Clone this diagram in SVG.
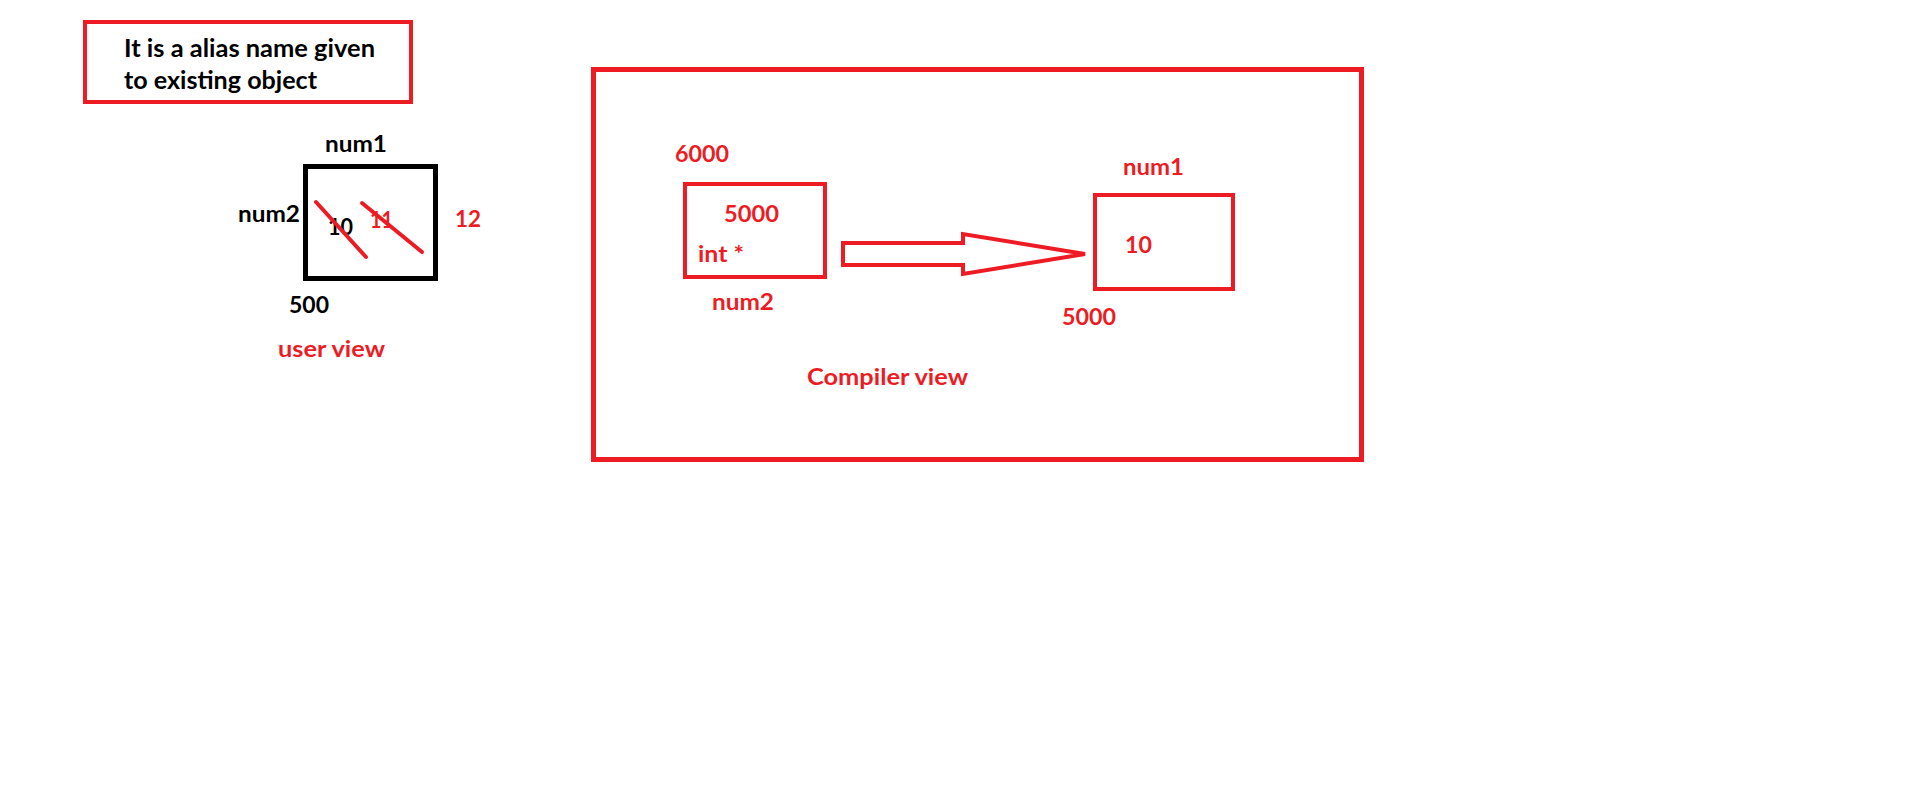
<svg xmlns="http://www.w3.org/2000/svg" width="1914" height="809" viewBox="0 0 1914 809">
<style>
text{font-family:Lato,"Open Sans","Liberation Sans",sans-serif;font-weight:bold;font-size:23px}
.k{fill:#000}
.r{fill:#ED1C24}
.bx{fill:none;stroke:#ED1C24;stroke-width:4}
.big{fill:none;stroke:#ED1C24;stroke-width:5}
.strike{stroke:#ED1C24;stroke-width:4;stroke-linecap:round}
</style>
<rect width="1914" height="809" fill="#fff"/>
<g id="note">
<rect class="bx" x="85" y="22" width="326" height="80"/>
<text class="k" x="124" y="57" style="font-size:24px" textLength="251" lengthAdjust="spacingAndGlyphs">It is a alias name given</text>
<text class="k" x="124" y="89" style="font-size:24px" textLength="193" lengthAdjust="spacingAndGlyphs">to existing object</text>
</g>
<g id="user-view">
<rect x="305.5" y="166.5" width="130" height="112" fill="none" stroke="#000" stroke-width="5"/>
<text class="k" x="325" y="152" textLength="62" lengthAdjust="spacingAndGlyphs">num1</text>
<text class="k" x="238" y="222" textLength="62" lengthAdjust="spacingAndGlyphs">num2</text>
<text class="k" x="328" y="235" textLength="25" lengthAdjust="spacingAndGlyphs">10</text>
<text class="r" x="370" y="228" textLength="23" lengthAdjust="spacingAndGlyphs">11</text>
<line class="strike" x1="316" y1="202" x2="366" y2="257"/>
<line class="strike" x1="362" y1="203" x2="422" y2="252"/>
<text class="r" x="455" y="227" textLength="26" lengthAdjust="spacingAndGlyphs">12</text>
<text class="k" x="289" y="313" textLength="40" lengthAdjust="spacingAndGlyphs">500</text>
<text class="r" x="278" y="357" textLength="107" lengthAdjust="spacingAndGlyphs">user view</text>
</g>
<g id="compiler-view">
<rect class="big" x="593.5" y="69.5" width="768" height="390"/>
<text class="r" x="807" y="385" textLength="161" lengthAdjust="spacingAndGlyphs">Compiler view</text>
</g>
<g id="num2-box">
<text class="r" x="675" y="162" textLength="54" lengthAdjust="spacingAndGlyphs">6000</text>
<rect class="bx" x="685" y="184" width="140" height="93"/>
<text class="r" x="724" y="222" textLength="55" lengthAdjust="spacingAndGlyphs">5000</text>
<text class="r" x="698" y="262" textLength="46" lengthAdjust="spacingAndGlyphs">int *</text>
<text class="r" x="712" y="310" textLength="62" lengthAdjust="spacingAndGlyphs">num2</text>
</g>
<g id="num1-box">
<text class="r" x="1123" y="175" textLength="61" lengthAdjust="spacingAndGlyphs">num1</text>
<rect class="bx" x="1095" y="195" width="138" height="94"/>
<text class="r" x="1125" y="253" textLength="27" lengthAdjust="spacingAndGlyphs">10</text>
<text class="r" x="1062" y="325" textLength="54" lengthAdjust="spacingAndGlyphs">5000</text>
</g>
<g id="connectors">
<polygon points="843,243 963,243 963,234 1085,254 963,274 963,265 843,265" fill="none" stroke="#ED1C24" stroke-width="4" stroke-linejoin="miter"/>
</g>
</svg>
